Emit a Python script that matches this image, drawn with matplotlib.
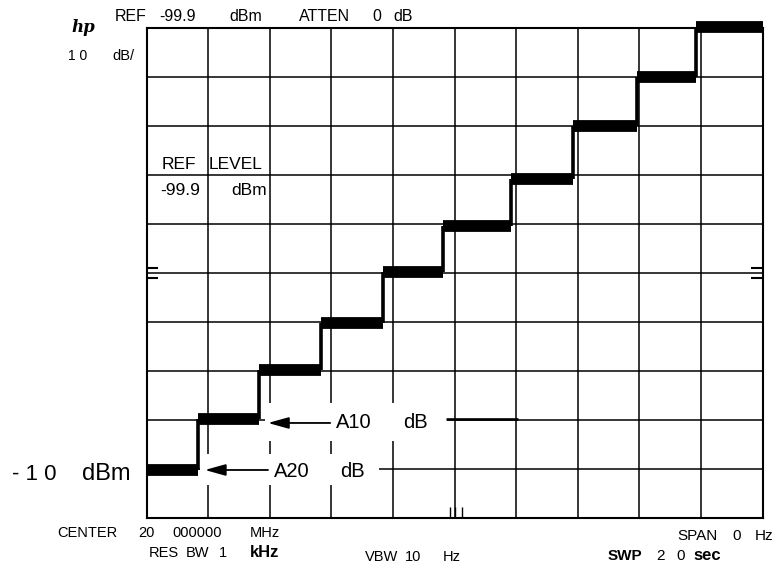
import matplotlib
matplotlib.use("Agg")
import matplotlib.pyplot as plt
import numpy as np
from matplotlib.patches import Rectangle

# ---------------- data ----------------
step_times = [0, 1.67, 3.65, 5.65, 7.68, 9.61, 11.83, 13.85, 15.93, 17.84, 20]   # sec (SWP 20 sec)
step_levels = [-90.4, -79.9, -69.9, -60.3, -49.9, -40.5, -30.8, -20.0, -10.1, 0.2]  # dB rel. ref
x_ticks = np.arange(0, 21, 2)          # 10 divisions
y_ticks = np.arange(-100, 1, 10)       # 10 dB/div

a10_tip = (3.94, -80.7)
a10_tail = 5.96
a10_lead = (9.72, 12.06, -79.9)
a20_tip = (1.89, -90.3)
a20_tail = 3.94

W, H = 780, 569
fig = plt.figure(figsize=(W / 100, H / 100), dpi=100)
fig.patch.set_facecolor("white")
L, R, T, B = 146.7, 762.5, 27.7, 517.5
ax = fig.add_axes([L / W, 1 - B / H, (R - L) / W, (B - T) / H])
ax.set_xlim(0, 20)
ax.set_ylim(-100, 0)
ax.set_xticks(x_ticks)
ax.set_yticks(y_ticks)
ax.set_axisbelow(True)
ax.grid(True, color="black", lw=1.1)
ax.tick_params(length=0, labelbottom=False, labelleft=False)
for s in ax.spines.values():
    s.set_linewidth(1.5)
    s.set_color("black")

# white gaps behind annotations
ax.add_patch(Rectangle((a10_tip[0] - 0.1, -84.4), 5.9, 7.8, facecolor="white",
                       edgecolor="none", zorder=1.5))
ax.add_patch(Rectangle((a20_tip[0] - 0.15, -93.4), 5.8, 6.3, facecolor="white",
                       edgecolor="none", zorder=1.5))

# trace
ax.hlines(step_levels, step_times[:-1], step_times[1:], colors="black", lw=8.5,
          capstyle="butt", zorder=3, clip_on=False)
ax.vlines(step_times[1:-1], step_levels[:-1], step_levels[1:], colors="black",
          lw=2.6, zorder=3)

# arrows
arrow_kw = dict(arrowstyle="-|>,head_length=0.9,head_width=0.25", color="black",
                lw=1.3, mutation_scale=14, shrinkA=0, shrinkB=0)
ax.annotate("", xy=a10_tip, xytext=(a10_tail, a10_tip[1]), arrowprops=arrow_kw, zorder=4)
ax.annotate("", xy=a20_tip, xytext=(a20_tail, a20_tip[1]), arrowprops=arrow_kw, zorder=4)
ax.hlines([a10_lead[2]], [a10_lead[0]], [a10_lead[1]], colors="black", lw=1.9, zorder=4)

# marker "=" at center line and small ticks at bottom
ax.hlines([-49.0, -51.1], 0, 0.36, colors="black", lw=1.5, zorder=4)
ax.hlines([-49.0, -51.1], 19.64, 20, colors="black", lw=1.5, zorder=4)
ax.vlines([9.85, 10.01, 10.24], -100, -97.9, colors="black", lw=1.0, zorder=4)

FAM = "Liberation Sans"


def ptext(x, y, s, size, weight="normal", **kw):
    fig.text(x / W, 1 - y / H, s, fontsize=size, fontweight=weight, ha="left",
             va="baseline", family=FAM, **kw)


# header
fig.text(71 / W, 1 - 32 / H, "hp", fontsize=12, fontweight="bold", style="italic",
         family="DejaVu Serif", ha="left", va="baseline")
for s, x in [("REF", 115), ("-99.9", 159), ("dBm", 229), ("ATTEN", 299), ("0", 372), ("dB", 393)]:
    ptext(x, 20.7, s, 11.5)
ptext(68, 60, "1 0", 10)
ptext(112, 60, "dB/", 10.5)

# REF LEVEL block
ptext(162, 169, "REF", 12.5)
ptext(209, 169, "LEVEL", 12.5)
ptext(160, 195, "-99.9", 12.5)
ptext(231, 195, "dBm", 12.5)

# -10 dBm
ptext(12, 480, "- 1 0", 16)
ptext(82, 480, "dBm", 17)

# A10 / A20
ptext(336, 428, "A10", 14.5)
ptext(403, 428, "dB", 14.5)
ptext(274, 477, "A20", 14.5)
ptext(340, 477, "dB", 14.5)

# bottom annotations
for s, x in [("CENTER", 57), ("20", 138), ("000000", 172), ("MHz", 250)]:
    ptext(x, 537, s, 10.5)
for s, x in [("RES", 149), ("BW", 186), ("1", 219)]:
    ptext(x, 557, s, 10.5)
ptext(250, 557, "kHz", 12, weight="bold")
for s, x in [("VBW", 365), ("10", 405), ("Hz", 443)]:
    ptext(x, 561, s, 10.5)
for s, x in [("SPAN", 677), ("0", 732), ("Hz", 755)]:
    ptext(x, 540, s, 11)
ptext(608, 560, "SWP", 11, weight="bold")
ptext(656, 560, "2", 11)
ptext(676, 560, "0", 11)
ptext(693, 560, "sec", 12, weight="bold")

fig.savefig("out.png", dpi=100, facecolor="white")
